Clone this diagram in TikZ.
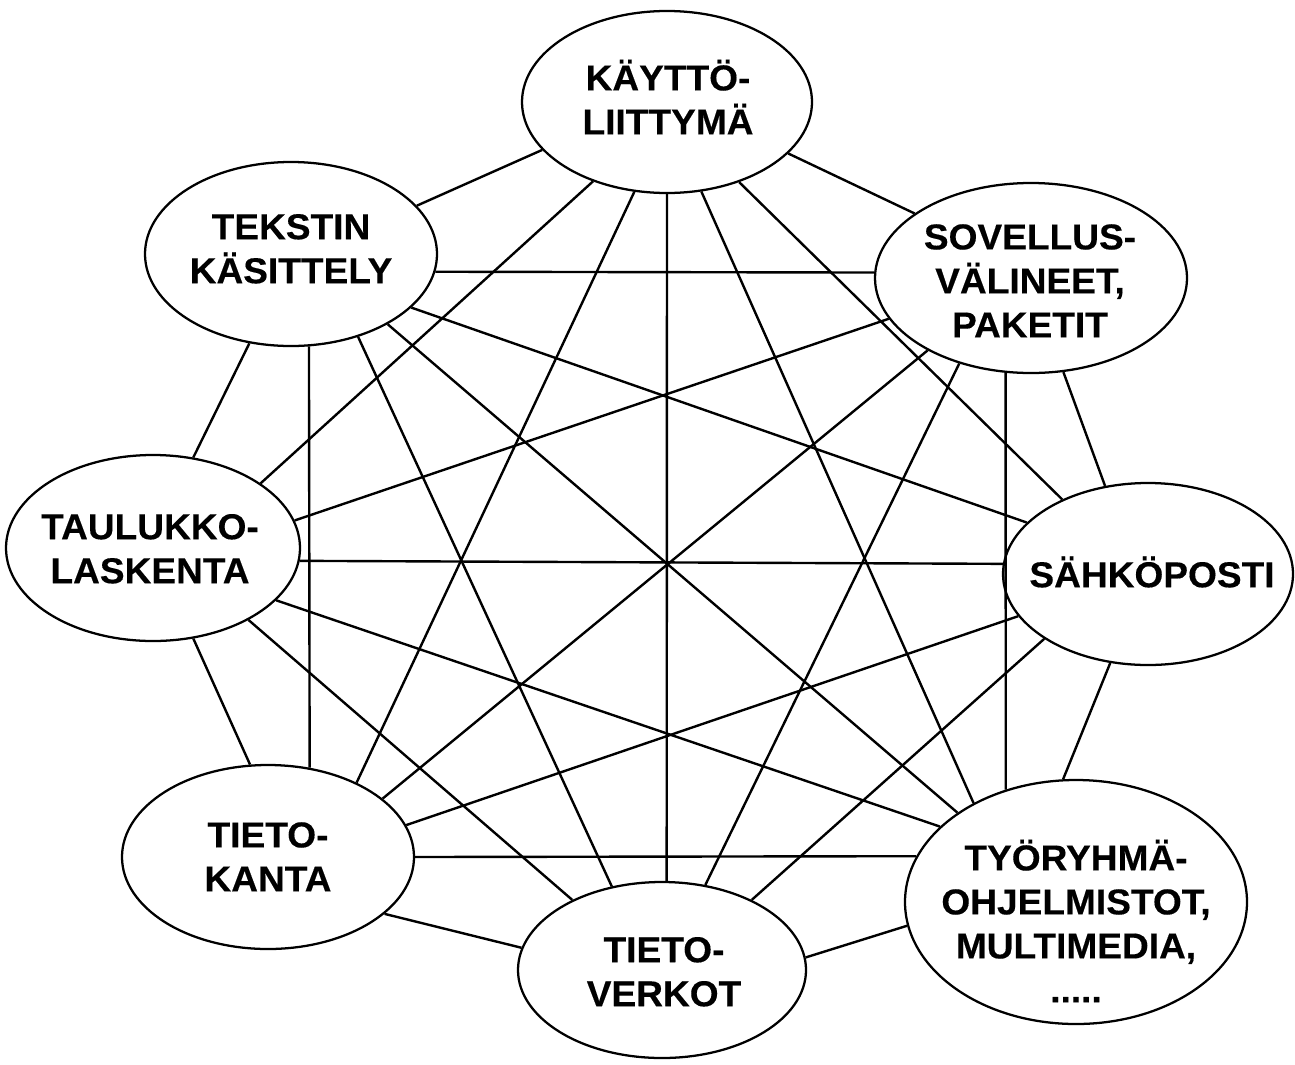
\documentclass[tikz,border=0pt]{standalone}
\usepackage{fontspec}
\newfontfamily\lblfont[FakeStretch=1.03,FakeBold=0.3]{Liberation Sans Bold}
\usetikzlibrary{shapes.geometric}
\begin{document}
\begin{tikzpicture}[x=0.75pt,y=-0.75pt,
  ell/.style={ellipse, draw, line width=1.7pt, fill=white, inner sep=0pt},
  lbl/.style={align=center, inner sep=0pt, font=\lblfont\fontsize{27}{33}\selectfont},
  link/.style={line width=1.8pt}]
\fill[white] (0,0) rectangle (1295,1064);
\useasboundingbox (0,0) rectangle (1295,1064);
% ellipses
\node[ell, minimum width=217.5pt, minimum height=136.5pt] (K)  at (667,102) {};
\node[ell, minimum width=234pt,   minimum height=142.5pt] (S)  at (1031,278) {};
\node[ell, minimum width=217.5pt, minimum height=136.5pt] (H)  at (1148,574) {};
\node[ell, minimum width=256.5pt, minimum height=183pt]   (TY) at (1076,902) {};
\node[ell, minimum width=216pt,   minimum height=132pt]   (V)  at (662,970) {};
\node[ell, minimum width=219pt,   minimum height=138pt]   (TK) at (268,857) {};
\node[ell, minimum width=220.5pt, minimum height=139.5pt] (TA) at (153,548) {};
\node[ell, minimum width=219pt,   minimum height=138pt]   (T)  at (291,254) {};
% labels
\node[lbl] (Kt)  at (668,97)    {KÄYTTÖ-\\LIITTYMÄ};
\node[lbl] (St)  at (1030,278)  {\vphantom{Ä}SOVELLUS-\\VÄLINEET,\\PAKETIT};
\node[lbl] (Ht)  at (1152,572)  {SÄHKÖPOSTI};
\node[lbl] (TYt) at (1076,921)  {TYÖRYHMÄ-\\OHJELMISTOT,\\MULTIMEDIA,\\.....};
\node[lbl] (Vt)  at (664,969)   {\vphantom{Ä}TIETO-\\VERKOT};
\node[lbl] (TKt) at (268,854)   {\vphantom{Ä}TIETO-\\KANTA};
\node[lbl] (TAt) at (150,546)   {\vphantom{Ä}TAULUKKO-\\LASKENTA};
\node[lbl] (Tt)  at (291,246)   {\vphantom{Ä}TEKSTIN\\KÄSITTELY};
% connectors
\draw[link] (T.21.1)    -- (K.-159.3);
\draw[link] (T.-7.5)    -- (S.178.2);
\draw[link] (T.-24.4)   -- (H.157.8);
\draw[link] (T.-36.5)   -- (TY.143.7);
\draw[link] (T.-51.8)   -- (V.121.6);
\draw[link] (T.-79.6)   -- (TK.65.5);
\draw[link] (T.-115.3)  -- (TA.66.7);
\draw[link] (K.-133.6)  -- (TA.31.7);
\draw[link] (K.-110.5)  -- (TK.40.1);
\draw[link] (K.-90)     -- (V.87.4);
\draw[link] (K.-69)     -- (TY.136.4);
\draw[link] (K.-48)     -- (H.139.9);
\draw[link] (K.-23.4)   -- (S.151.4);
\draw[link] (S.-164)    -- (TA.11.8);
\draw[link] (S.-145.6)  -- (TK.27.6);
\draw[link] (S.-130)    -- (V.63.2);
\draw[link] (S.-105.5)  -- (TY.122.7);
\draw[link] (S.-71.7)   -- (H.116.8);
\draw[link] (H.176.4)   -- (TA.-5.8);
\draw[link] (H.-162.1)  -- (TK.13.9);
\draw[link] (H.-148.1)  -- (V.38);
\draw[link] (H.-113.7)  -- (TY.96.5);
\draw[link] (TY.164.7)  -- (TK.-0.4);
\draw[link] (TY.-172.9) -- (V.5.2);
\draw[link] (TY.151.4)  -- (TA.-23.9);
\draw[link] (V.142.3)   -- (TA.-37.5);
\draw[link] (V.171.9)   -- (TK.-26);
\draw[link] (TK.101.1)  -- (TA.-66.6);
\end{tikzpicture}
\end{document}
